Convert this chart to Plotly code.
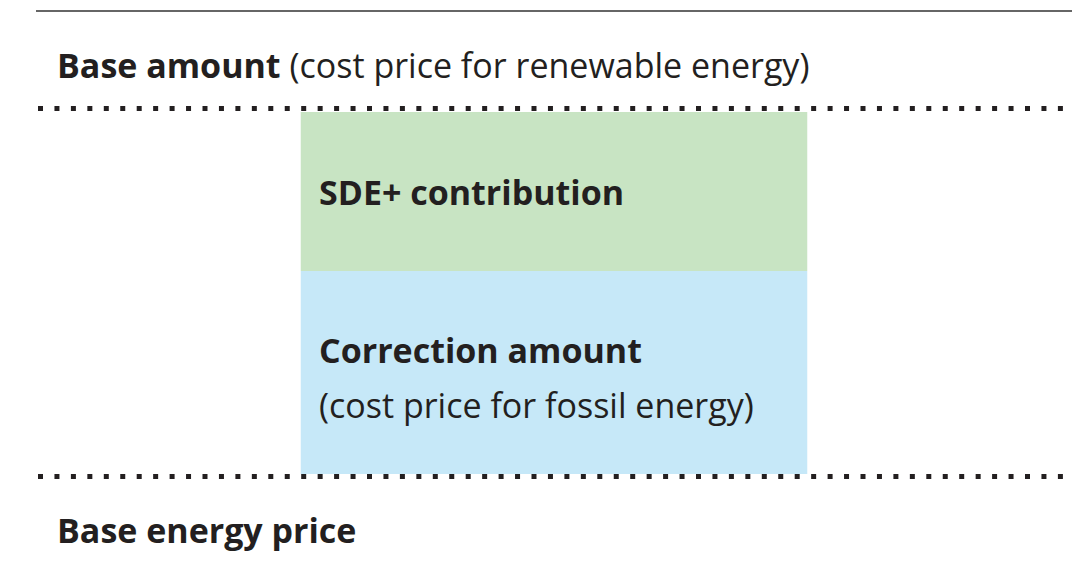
import plotly.graph_objects as go

# Conceptual levels (arbitrary cost units)
segments = ["Correction amount", "SDE+ contribution"]
segment_values = [203, 159]          # stacked heights
segment_colors = ["#c6e8f8", "#c8e4c3"]
base_energy_price = 0
base_amount = base_energy_price + sum(segment_values)

FONT = "Open Sans"
TXT = "#231f20"
FS = 34

fig = go.Figure()
base = base_energy_price
for name, val, col in zip(segments, segment_values, segment_colors):
    fig.add_trace(go.Bar(x=[554], y=[val], base=[base], width=[506.5],
                         marker=dict(color=col, line=dict(width=0)),
                         name=name, showlegend=False, hoverinfo="skip"))
    base += val

# dotted reference lines
for lvl, off in [(base_amount, 3.5), (base_energy_price, -2.5)]:
    fig.add_shape(type="line", xref="x", yref="y", x0=38, x1=1072,
                  y0=lvl + off, y1=lvl + off,
                  line=dict(color=TXT, width=5, dash="5px,11.45px"))
# top solid rule
fig.add_shape(type="line", xref="x", yref="y", x0=36, x1=1072,
              y0=base_amount + 101, y1=base_amount + 101,
              line=dict(color="#333333", width=1.5))

ann = [
    (55, base_amount + 47, "<b>Base amount</b> (cost price for renewable energy)"),
    (55, base_energy_price - 56, "<b>Base energy price</b>"),
    (317, segment_values[0] + segment_values[1] * 0.5, "<b>SDE+ contribution</b>"),
    (317, segment_values[0] - 79, "<b>Correction amount</b>"),
    (317, segment_values[0] - 134, "(cost price for fossil energy)"),
]
for x, y, t in ann:
    fig.add_annotation(x=x, y=y, xref="x", yref="y", text=t, showarrow=False,
                       xanchor="left", yanchor="middle",
                       font=dict(family=FONT, size=FS, color=TXT))

# page body has an 8px margin; shift ranges so coordinates land on the right pixels
fig.update_layout(
    width=1079, height=563,
    margin=dict(l=0, r=0, t=0, b=0),
    paper_bgcolor="white", plot_bgcolor="white",
    barmode="overlay",
    xaxis=dict(range=[8, 1087], visible=False, fixedrange=True),
    yaxis=dict(range=[-97, 466], visible=False, fixedrange=True),
)
fig.write_html("out.html")
